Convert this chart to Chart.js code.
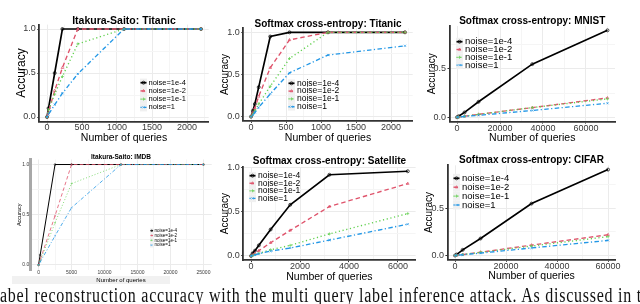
<!DOCTYPE html>
<html>
<head>
<meta charset="utf-8">
<script src="https://cdn.jsdelivr.net/npm/chart.js@4.4.1/dist/chart.umd.min.js"></script>
<style>
  html, body { margin: 0; padding: 0; background: #fff; }
  #wrap { position: relative; width: 640px; height: 304px; overflow: hidden; }
  #wrap canvas { position: absolute; left: 0; top: 0; }
  #caption {
    position: absolute; left: 0; top: 285px; white-space: nowrap;
    font-family: "Liberation Serif", "DejaVu Serif", serif; font-size: 16px; line-height: 16px;
    color: #111; transform: scaleY(1.3); transform-origin: 0 0;
  }
</style>
</head>
<body>
<div id="wrap">
  <canvas id="c1" width="640" height="304"></canvas>
  <canvas id="c2" width="640" height="304"></canvas>
  <canvas id="c3" width="640" height="304"></canvas>
  <canvas id="c4" width="640" height="304"></canvas>
  <canvas id="c5" width="640" height="304"></canvas>
  <canvas id="c6" width="640" height="304"></canvas>
  <div id="caption">abel reconstruction accuracy with the multi query label inference attack. As discussed in t</div>
</div>
<script>
const noiseLabels = ['noise=1e-4', 'noise=1e-2', 'noise=1e-1', 'noise=1'];

// Itakura-Saito: Titanic
const isTitanicQueries = [0, 22, 110, 220, 440, 1100, 2200];
const isTitanicNoise1e4 = [0, 0.10, 0.50, 1.00, 1.00, 1.00, 1.00];
const isTitanicNoise1e2 = [0, 0.06, 0.30, 0.56, 1.00, 1.00, 1.00];
const isTitanicNoise1e1 = [0, 0.08, 0.26, 0.46, 0.83, 1.00, 1.00];
const isTitanicNoise1 = [0, 0.03, 0.14, 0.27, 0.49, 1.00, 1.00];

// Softmax cross-entropy: Titanic
const sceTitanicQueries = [0, 27, 55, 110, 275, 550, 1100, 2200];
const sceTitanicNoise1e4 = [0, 0.07, 0.15, 0.35, 0.95, 1.00, 1.00, 1.00];
const sceTitanicNoise1e2 = [0, 0.05, 0.10, 0.24, 0.58, 0.91, 1.00, 1.00];
const sceTitanicNoise1e1 = [0, 0.03, 0.07, 0.15, 0.36, 0.69, 1.00, 1.00];
const sceTitanicNoise1 = [0, 0.02, 0.05, 0.11, 0.27, 0.52, 0.73, 0.84];

// Softmax cross-entropy: MNIST
const mnistQueries = [0, 700, 3500, 10000, 35000, 70000];
const mnistNoise1e4 = [0, 0.01, 0.05, 0.16, 0.55, 0.90];
const mnistNoise1e2 = [0, 0.002, 0.01, 0.03, 0.10, 0.20];
const mnistNoise1e1 = [0, 0.002, 0.01, 0.03, 0.10, 0.19];
const mnistNoise1 = [0, 0.002, 0.008, 0.02, 0.07, 0.145];

// Itakura-Saito: IMDB
const imdbQueries = [0, 250, 2500, 5000, 12500, 25000];
const imdbNoise1e4 = [0, 0.10, 1.00, 1.00, 1.00, 1.00];
const imdbNoise1e2 = [0, 0.05, 0.49, 1.00, 1.00, 1.00];
const imdbNoise1e1 = [0, 0.04, 0.42, 0.81, 1.00, 1.00];
const imdbNoise1 = [0, 0.03, 0.29, 0.57, 1.00, 1.00];

// Softmax cross-entropy: Satellite
const satQueries = [0, 64, 160, 320, 800, 1600, 3200, 6400];
const satNoise1e4 = [0, 0.03, 0.06, 0.12, 0.30, 0.58, 0.92, 0.96];
const satNoise1e2 = [0, 0.01, 0.03, 0.06, 0.15, 0.29, 0.56, 0.82];
const satNoise1e1 = [0, 0.005, 0.015, 0.03, 0.07, 0.12, 0.25, 0.48];
const satNoise1 = [0, 0.005, 0.012, 0.025, 0.055, 0.09, 0.18, 0.36];

// Softmax cross-entropy: CIFAR
const cifarQueries = [0, 600, 3000, 10000, 30000, 60000];
const cifarNoise1e4 = [0, 0.01, 0.06, 0.18, 0.55, 0.91];
const cifarNoise1e2 = [0, 0.002, 0.01, 0.035, 0.11, 0.22];
const cifarNoise1e1 = [0, 0.002, 0.01, 0.033, 0.10, 0.20];
const cifarNoise1 = [0, 0.002, 0.008, 0.025, 0.08, 0.16];

// tick values
const titanicTicks = [0, 500, 1000, 1500, 2000];
const titanicMinor = [250, 750, 1250, 1750, 2250];
const mnistTicks = [0, 20000, 40000, 60000];
const mnistMinor = [10000, 30000, 50000, 70000];
const imdbTicks = [0, 5000, 10000, 15000, 20000, 25000];
const imdbMinor = [2500, 7500, 12500, 17500, 22500];
const satTicks = [0, 2000, 4000, 6000];
const satMinor = [1000, 3000, 5000];
const cifarTicks = [0, 20000, 40000, 60000];
const cifarMinor = [10000, 30000, 50000];
const accTicks = [0, 0.5, 1.0];
const accMinor = [0.25, 0.75];

// R palette + ggplot linetypes / shapes 1..4
const seriesColors = ['#000000', '#DF536B', '#61D04F', '#2297E6'];
const seriesDash = [[], [4.5, 3], [1.2, 2.6], [1.2, 2.4, 4.5, 2.4]];
const seriesPoint = ['circle', 'triangle', 'cross', 'crossRot'];

Chart.defaults.font.family = "'Liberation Sans', Arial, sans-serif";

const W = 640, H = 304;

function expand(vals) {
    const lo = Math.min(...vals), hi = Math.max(...vals);
    const d = (hi - lo) * 0.05;
    return [lo - d, hi + d];
}

// legend drawn inside the panel, ggplot style
const insideLegend = {
    id: 'insideLegend',
    afterDatasetsDraw(chart, args, opts) {
        if (!opts || opts.x === undefined) return;
        const ctx = chart.ctx;
        ctx.save();
        chart.data.datasets.forEach((ds, i) => {
            const cy = opts.y + i * opts.rowH;
            const x0 = opts.x;
            ctx.fillStyle = '#f0f0f0';
            ctx.fillRect(x0, cy - opts.rowH / 2, opts.keyW, opts.rowH);
            ctx.strokeStyle = ds.borderColor;
            ctx.lineWidth = ds.borderWidth;
            ctx.setLineDash(ds.borderDash || []);
            ctx.beginPath();
            ctx.moveTo(x0 + 0.5, cy);
            ctx.lineTo(x0 + opts.keyW - 0.5, cy);
            ctx.stroke();
            ctx.setLineDash([]);
            ctx.fillStyle = 'rgba(0,0,0,0)';
            ctx.lineWidth = ds.pointBorderWidth;
            if (Chart.helpers && Chart.helpers.drawPoint) {
                Chart.helpers.drawPoint(ctx, {
                    pointStyle: ds.pointStyle, radius: ds.pointRadius,
                    borderWidth: ds.pointBorderWidth, rotation: 0
                }, x0 + opts.keyW / 2, cy);
            }
            ctx.fillStyle = '#000';
            ctx.font = opts.font + "px 'Liberation Sans', Arial, sans-serif";
            ctx.textBaseline = 'middle';
            ctx.textAlign = 'left';
            ctx.fillText(ds.label, x0 + opts.keyW + opts.gap, cy);
        });
        ctx.restore();
    }
};

// light grey band under the IMDB panel
const backdrop = {
    id: 'backdrop',
    beforeDraw(chart, args, opts) {
        if (!opts || !opts.band) return;
        const b = opts.band;
        chart.ctx.save();
        chart.ctx.fillStyle = b.color;
        chart.ctx.fillRect(b.x, b.y, b.w, b.h);
        chart.ctx.restore();
    }
};

function tickList(major, minor, range) {
    return major.concat(minor)
        .filter(v => v >= range[0] && v <= range[1])
        .sort((a, b) => a - b)
        .map(v => ({ value: v }));
}

function makePanel(p) {
    const ctx = document.getElementById(p.id).getContext('2d');
    const a = p.area;

    const padLeft = p.yTitleX - p.yAxisSize / 2;
    const padTop = p.titleY - p.titleSize / 2;
    const padRight = W - a.r;
    const padBottom = H - (p.xTitleY + p.axisSize / 2);
    const yWidth = a.l - padLeft;
    const xHeight = p.xTitleY + p.axisSize / 2 - a.b;
    const titleGap = a.t - (p.titleY + p.titleSize / 2);

    const xRange = expand(p.queries);
    const yRange = expand(p.series.flat());
    const xMinorSet = new Set(p.xMinor);
    const yMinorSet = new Set(accMinor);

    const gridColor = set => c => (c.tick && set.has(c.tick.value)) ? '#f5f5f5' : '#ebebeb';
    const tickColor = set => c => (c.tick && set.has(c.tick.value)) ? 'rgba(0,0,0,0)' : '#333333';

    return new Chart(ctx, {
        type: 'line',
        data: {
            datasets: p.series.map((vals, i) => ({
                label: noiseLabels[i],
                data: p.queries.map((q, j) => ({ x: q, y: vals[j] })),
                borderColor: seriesColors[i],
                backgroundColor: 'rgba(0,0,0,0)',
                borderWidth: i === 0 ? p.lineWidth * 1.25 : p.lineWidth,
                borderDash: seriesDash[i].map(d => d * p.dashScale),
                pointStyle: seriesPoint[i],
                pointRadius: p.pointRadius,
                pointBorderWidth: p.pointBorder,
                pointBackgroundColor: 'rgba(0,0,0,0)',
                pointBorderColor: seriesColors[i],
                tension: 0,
                fill: false,
                order: 3 - i
            }))
        },
        options: {
            responsive: false,
            animation: false,
            events: [],
            layout: { padding: { left: padLeft, top: padTop, right: padRight, bottom: padBottom } },
            plugins: {
                legend: { display: false },
                tooltip: { enabled: false },
                title: {
                    display: true, text: p.title, fullSize: false, color: '#000',
                    font: { size: p.titleSize, weight: 'bold', lineHeight: 1 },
                    padding: { top: 0, bottom: titleGap }
                },
                insideLegend: p.legend,
                backdrop: { band: p.band }
            },
            scales: {
                x: {
                    type: 'linear', min: xRange[0], max: xRange[1],
                    afterBuildTicks: s => { s.ticks = tickList(p.xTicks, p.xMinor, xRange); },
                    afterFit: s => { s.height = xHeight; },
                    ticks: {
                        autoSkip: false, maxRotation: 0, minRotation: 0, padding: p.xTickPad,
                        color: '#3a3a3a', font: { size: p.tickSize, lineHeight: 1 },
                        callback: v => xMinorSet.has(v) ? '' : String(v)
                    },
                    grid: {
                        color: gridColor(xMinorSet), lineWidth: 1,
                        drawTicks: p.drawTicks, tickLength: 2, tickColor: tickColor(xMinorSet)
                    },
                    border: { display: p.xBorder, color: p.axisColor, width: p.axisWidth },
                    title: {
                        display: true, text: 'Number of queries', color: '#000',
                        font: { size: p.axisSize, lineHeight: 1 }, padding: 0
                    }
                },
                y: {
                    type: 'linear', min: yRange[0], max: yRange[1],
                    afterBuildTicks: s => { s.ticks = tickList(accTicks, accMinor, yRange); },
                    afterFit: s => { s.width = yWidth; },
                    ticks: {
                        autoSkip: false, padding: p.yTickPad,
                        color: '#3a3a3a', font: { size: p.tickSize, lineHeight: 1 },
                        callback: v => yMinorSet.has(v) ? '' : v.toFixed(1)
                    },
                    grid: {
                        color: gridColor(yMinorSet), lineWidth: 1,
                        drawTicks: p.drawTicks, tickLength: 2, tickColor: tickColor(yMinorSet)
                    },
                    border: { display: true, color: p.yAxisColor || p.axisColor, width: p.yAxisWidth || p.axisWidth },
                    title: {
                        display: true, text: 'Accuracy', color: '#000',
                        font: { size: p.yAxisSize, lineHeight: 1 }, padding: 0
                    }
                }
            }
        },
        plugins: [insideLegend, backdrop]
    });
}

const common = {
    titleSize: 10, axisSize: 10.5, yAxisSize: 10, tickSize: 9,
    xTickPad: 0, yTickPad: 1.5, drawTicks: true,
    xBorder: true, axisColor: '#333333', axisWidth: 1.8,
    lineWidth: 1.35, dashScale: 1, pointRadius: 1.5, pointBorder: 0.7
};

makePanel(Object.assign({}, common, {
    id: 'c1', title: 'Itakura-Saito: Titanic',
    queries: isTitanicQueries,
    series: [isTitanicNoise1e4, isTitanicNoise1e2, isTitanicNoise1e1, isTitanicNoise1],
    xTicks: titanicTicks, xMinor: titanicMinor,
    area: { l: 39.3, r: 208.7, t: 24.6, b: 121.4 },
    titleY: 21, yTitleX: 22, xTitleY: 138, yAxisSize: 12, titleSize: 10.5,
    legend: { x: 140, y: 82.7, rowH: 8.2, keyW: 7, gap: 1.5, font: 7.5 }
}));

makePanel(Object.assign({}, common, {
    id: 'c2', title: 'Softmax cross-entropy: Titanic',
    queries: sceTitanicQueries,
    series: [sceTitanicNoise1e4, sceTitanicNoise1e2, sceTitanicNoise1e1, sceTitanicNoise1],
    xTicks: titanicTicks, xMinor: titanicMinor,
    area: { l: 243.3, r: 412.7, t: 28.1, b: 120.9 },
    titleY: 24, yTitleX: 225, xTitleY: 138,
    legend: { x: 288, y: 83.3, rowH: 7.8, keyW: 7, gap: 2, font: 8.5 }
}));

makePanel(Object.assign({}, common, {
    id: 'c3', title: 'Softmax cross-entropy: MNIST',
    queries: mnistQueries,
    series: [mnistNoise1e4, mnistNoise1e2, mnistNoise1e1, mnistNoise1],
    xTicks: mnistTicks, xMinor: mnistMinor,
    area: { l: 449.5, r: 615, t: 26, b: 121.6 },
    titleY: 21.5, yTitleX: 432.7, xTitleY: 138,
    legend: { x: 456, y: 41.7, rowH: 7.8, keyW: 7, gap: 2, font: 9.5 }
}));

makePanel(Object.assign({}, common, {
    id: 'c4', title: 'Itakura-Saito: IMDB',
    queries: imdbQueries,
    series: [imdbNoise1e4, imdbNoise1e2, imdbNoise1e1, imdbNoise1],
    xTicks: imdbTicks, xMinor: imdbMinor,
    area: { l: 30.3, r: 211.7, t: 159.5, b: 270 },
    titleY: 157.7, yTitleX: 19, xTitleY: 280,
    titleSize: 6.5, axisSize: 6, yAxisSize: 5.5, tickSize: 5,
    drawTicks: false, xTickPad: 0.5, yTickPad: 1,
    xBorder: false, yAxisColor: '#a8a8a8', yAxisWidth: 3,
    lineWidth: 0.8, dashScale: 0.8, pointRadius: 0.9, pointBorder: 0.5,
    legend: { x: 150, y: 230.7, rowH: 4.8, keyW: 3.5, gap: 1, font: 4.5 },
    band: { x: 12, y: 276, w: 158, h: 8, color: '#f1f1f1' }
}));

makePanel(Object.assign({}, common, {
    id: 'c5', title: 'Softmax cross-entropy: Satellite',
    queries: satQueries,
    series: [satNoise1e4, satNoise1e2, satNoise1e1, satNoise1],
    xTicks: satTicks, xMinor: satMinor,
    area: { l: 243.2, r: 415.6, t: 167, b: 260.2 },
    titleY: 161, yTitleX: 225, xTitleY: 276.7,
    legend: { x: 249, y: 175.7, rowH: 7.55, keyW: 7, gap: 2, font: 8.5 }
}));

makePanel(Object.assign({}, common, {
    id: 'c6', title: 'Softmax cross-entropy: CIFAR',
    queries: cifarQueries,
    series: [cifarNoise1e4, cifarNoise1e2, cifarNoise1e1, cifarNoise1],
    xTicks: cifarTicks, xMinor: cifarMinor,
    area: { l: 447.4, r: 615.7, t: 165.3, b: 259.8 },
    titleY: 160, yTitleX: 429, xTitleY: 276,
    legend: { x: 453, y: 178.3, rowH: 8.9, keyW: 7, gap: 2, font: 9.5 }
}));

// stretch caption to the page width
const cap = document.getElementById('caption');
const natural = cap.getBoundingClientRect().width;
cap.style.letterSpacing = ((642 - natural) / cap.textContent.length) + 'px';
</script>
</body>
</html>
